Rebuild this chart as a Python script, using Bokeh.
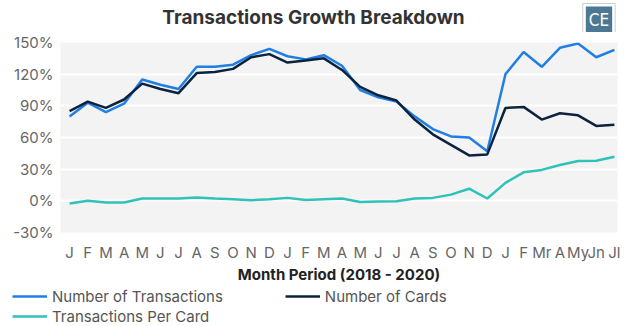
from bokeh.plotting import figure
from bokeh.layouts import column
from bokeh.models import (ColumnDataSource, FixedTicker, Legend, LegendItem, Label,
                          Range1d, CustomJSTickFormatter)
from bokeh.embed import file_html
from bokeh.resources import INLINE

months = ["J", "F", "M", "A", "M", "J", "J", "A", "S", "O", "N", "D",
          "J", "F", "M", "A", "M", "J", "J", "A", "S", "O", "N", "D",
          "J", "F", "Mr", "A", "My", "Jn", "Jl"]

transactions = [80, 93, 84, 92, 115, 110, 106, 127, 127, 129, 138, 144,
                137, 134, 138, 128, 105, 98, 94, 80, 68, 61, 60, 47,
                120, 141, 127, 145, 149, 136, 143]

cards = [85, 94, 88, 96, 111, 106, 102, 121, 122, 125, 136, 139,
         131, 133, 135, 124, 108, 100, 95, 77, 63, 53, 43, 44,
         88, 89, 77, 83, 81, 71, 72]

per_card = [-2.5, 0, -1.6, -1.6, 2.2, 2.2, 2.2, 3.1, 2.2, 1.6, 0.6, 1.6,
            2.8, 0.8, 1.6, 2.2, -1.2, -0.6, -0.3, 2.2, 2.8, 5.9, 11.5, 2.2,
            17, 27, 29.3, 34, 37.7, 38, 41.8]

y_ticks = [-30, 0, 30, 60, 90, 120, 150]

series_names = ["Number of Transactions", "Number of Cards", "Transactions Per Card"]
series_colors = ["#1f7fe3", "#0c2340", "#2ec2b9"]

FONT = "Inter"

def blank(height):
    f = figure(width=624, height=height, output_backend="svg", toolbar_location=None,
               x_range=Range1d(0, 624), y_range=Range1d(0, height),
               x_axis_type=None, y_axis_type=None, frame_align=False,
               min_border_left=0, min_border_right=0, min_border_top=0, min_border_bottom=0)
    f.outline_line_color = None
    f.grid.grid_line_color = None
    f.background_fill_color = "white"
    f.border_fill_color = "white"
    return f

# ---- header: title + CE badge
head = blank(32)
head.add_layout(Label(x=313, y=15, text="Transactions Growth Breakdown", text_align="center",
                      text_baseline="middle", text_font=FONT, text_font_size="19px",
                      text_font_style="bold", text_color="#333333"))
CE_FONT = "DejaVu Sans Condensed"
head.add_layout(Label(x=598.5, y=13, text="CE", text_align="center", text_baseline="middle",
                      text_font=CE_FONT, text_font_size="17px", text_color="white",
                      background_fill_color="white", border_line_color="#cfcfcf",
                      border_line_width=1, padding=6))
head.add_layout(Label(x=598.5, y=13, text="CE", text_align="center", text_baseline="middle",
                      text_font=CE_FONT, text_font_size="17px", text_color="white",
                      background_fill_color="#4d7893", border_line_color=None, padding=3))

# ---- main chart
x = list(range(len(months)))
src = ColumnDataSource(dict(x=x, t=transactions, c=cards, p=per_card))

p = figure(width=624, height=254, output_backend="svg", toolbar_location=None,
           x_range=Range1d(-0.5, 30.17), y_range=Range1d(-30, 150), frame_align=False,
           min_border_left=60, min_border_right=7, min_border_top=10, min_border_bottom=53)
p.background_fill_color = "#f3f3f3"
p.border_fill_color = "white"
p.outline_line_color = None

for col, color in zip(["t", "c", "p"], series_colors):
    p.line("x", col, source=src, line_color=color, line_width=2.5)

p.xgrid.grid_line_color = None
p.ygrid.grid_line_color = "white"
p.ygrid.grid_line_width = 2

p.yaxis.ticker = FixedTicker(ticks=y_ticks)
p.yaxis.formatter = CustomJSTickFormatter(code="return tick + '%';")
p.xaxis.ticker = FixedTicker(ticks=x)
p.xaxis.major_label_overrides = {i: m for i, m in enumerate(months)}

for ax in (p.xaxis[0], p.yaxis[0]):
    ax.axis_line_color = None
    ax.major_tick_line_color = None
    ax.minor_tick_line_color = None
    ax.major_tick_out = 0
    ax.major_tick_in = 0
    ax.minor_tick_out = 0
    ax.major_label_text_font = FONT
    ax.major_label_text_color = "#666666"

p.yaxis.major_label_text_font_size = "15px"
p.yaxis.major_label_standoff = 7
p.xaxis.major_label_text_font_size = "15px"
p.xaxis.major_label_standoff = 10
p.xaxis.axis_label = "Month Period (2018 - 2020)"
p.xaxis.axis_label_text_font = FONT
p.xaxis.axis_label_text_font_size = "15px"
p.xaxis.axis_label_text_font_style = "bold"
p.xaxis.axis_label_text_color = "#222222"
p.xaxis.axis_label_standoff = 0

# ---- legend strip
leg = blank(40)
rs = [leg.line([-20, -10], [-20, -20], line_color=c, line_width=2.5) for c in series_colors]

def mk_legend(items, loc, spacing):
    return Legend(items=items, orientation="horizontal", location=loc,
                  margin=0, padding=0, spacing=spacing, glyph_width=35, glyph_height=20,
                  label_standoff=5, label_text_font=FONT, label_text_font_size="15px",
                  label_text_color="#555555", border_line_color=None,
                  background_fill_alpha=0)

leg.add_layout(mk_legend([LegendItem(label=series_names[0], renderers=[rs[0]]),
                          LegendItem(label=series_names[1], renderers=[rs[1]])], (12, 20), 62))
leg.add_layout(mk_legend([LegendItem(label=series_names[2], renderers=[rs[2]])], (12, 0), 0))

layout = column(head, p, leg, spacing=0)
open("out.html", "w").write(file_html(layout, INLINE))
